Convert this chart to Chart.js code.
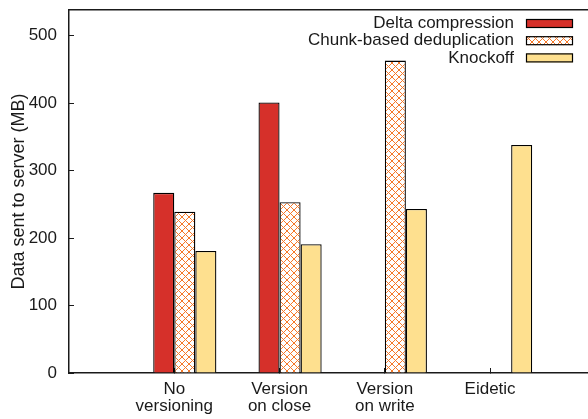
<!DOCTYPE html>
<html>
<head>
<meta charset="utf-8">
<script src="https://cdn.jsdelivr.net/npm/chart.js@4.4.1/dist/chart.umd.min.js"></script>
<style>
  html, body { margin: 0; padding: 0; background: #fff; overflow: hidden; }
  canvas { display: block; }
</style>
</head>
<body>
<canvas id="chart" width="588" height="419"></canvas>
<script>
// Values (MB sent to server)
const categories = [["No", "versioning"], ["Version", "on close"], ["Version", "on write"], "Eidetic"]
const seriesNames = ["Delta compression", "Chunk-based deduplication", "Knockoff"]
const deltaValues = [267, 401, null, null]
const chunkValues = [239, 253, 463, null]
const knockoffValues = [181, 191, 243, 338]
const yTicks = [0, 100, 200, 300, 400, 500]
const yMax = 538
const xMax = 3.93 // right edge of the frame is cut off in the original

const FONT = "'Liberation Sans', Arial, Helvetica, sans-serif"
const TEXT = "#1a1a1a"

const canvas = document.getElementById("chart")
const ctx = canvas.getContext("2d")

// orange cross-hatch used for the dedup bars
function hatchPattern(color) {
  const tile = document.createElement("canvas")
  tile.width = 7
  tile.height = 7
  const c = tile.getContext("2d")
  c.fillStyle = "#fff"
  c.fillRect(0, 0, 7, 7)
  c.strokeStyle = color
  c.lineWidth = 1
  c.beginPath()
  c.moveTo(0, 0); c.lineTo(7, 7)
  c.moveTo(7, 0); c.lineTo(0, 7)
  c.stroke()
  return ctx.createPattern(tile, "repeat")
}

const toPoints = (values) => values.map((v, i) => ({ x: i, y: v }))

const barStyle = {
  borderColor: "#000",
  borderWidth: 1.3,
  categoryPercentage: 0.8,
  barPercentage: 1.0,
}

// no label overflow padding, the frame is fixed
const noPad = (s) => {
  s.paddingTop = 0
  s.paddingBottom = 0
  s.paddingLeft = 0
  s.paddingRight = 0
}

// legend on the right, text before the swatch (gnuplot style)
const sideLegend = {
  id: "sideLegend",
  afterDraw(chart) {
    const c = chart.ctx
    const items = chart.data.datasets.filter((d) => d.label)
    c.save()
    c.font = "17px " + FONT
    c.textAlign = "right"
    c.textBaseline = "middle"
    items.forEach((ds, i) => {
      const y = chart.chartArea.top + 13.5 + i * 17.2
      c.fillStyle = TEXT
      c.fillText(ds.label, 514, y)
      c.fillStyle = ds.backgroundColor
      c.fillRect(526, y - 4.5, 47, 9)
      c.strokeStyle = "#000"
      c.lineWidth = 1.2
      c.strokeRect(526.5, y - 4, 46, 8)
    })
    c.restore()
  },
}

new Chart(canvas, {
  type: "bar",
  data: {
    datasets: [
      // empty slot: the clusters leave one bar width free on the left
      { label: "", data: [], backgroundColor: "transparent", ...barStyle },
      { label: seriesNames[0], data: toPoints(deltaValues), backgroundColor: "#d6302a", ...barStyle },
      { label: seriesNames[1], data: toPoints(chunkValues), backgroundColor: hatchPattern("#f5792a"), ...barStyle },
      { label: seriesNames[2], data: toPoints(knockoffValues), backgroundColor: "#fee08f", ...barStyle },
    ],
  },
  options: {
    responsive: false,
    devicePixelRatio: 1,
    animation: false,
    layout: { padding: { top: 10, left: 0, right: 0, bottom: 0 } },
    plugins: {
      legend: { display: false },
      tooltip: { enabled: false },
    },
    scales: {
      x: {
        type: "linear",
        min: -1,
        max: xMax,
        offset: false,
        afterBuildTicks: (s) => { s.ticks = categories.map((_, i) => ({ value: i })) },
        afterFit: (s) => { s.height = 46; noPad(s) },
        ticks: {
          callback: (v) => categories[v],
          font: { family: FONT, size: 17, lineHeight: 1 },
          color: TEXT,
          padding: 13,
          maxRotation: 0,
          autoSkip: false,
        },
        grid: { offset: false, drawOnChartArea: false, tickLength: -5, color: TEXT },
        border: { color: TEXT, width: 1.5 },
      },
      xTop: {
        type: "linear",
        position: "top",
        min: -1,
        max: xMax,
        offset: false,
        afterFit: (s) => { s.height = 0; noPad(s) },
        ticks: { display: false },
        grid: { offset: false, drawOnChartArea: false, drawTicks: false },
        border: { color: TEXT, width: 1.5 },
      },
      y: {
        min: 0,
        max: yMax,
        afterBuildTicks: (s) => { s.ticks = yTicks.map((v) => ({ value: v })) },
        afterFit: (s) => { s.width = 69; noPad(s) },
        ticks: {
          font: { family: FONT, size: 17 },
          color: TEXT,
          padding: 17,
        },
        grid: { drawOnChartArea: false, tickLength: -5, color: TEXT },
        border: { color: TEXT, width: 1.5 },
        title: {
          display: true,
          text: "Data sent to server (MB)",
          font: { family: FONT, size: 18 },
          color: TEXT,
          padding: { top: 8, bottom: 0 },
        },
      },
    },
  },
  plugins: [sideLegend],
})
</script>
</body>
</html>
